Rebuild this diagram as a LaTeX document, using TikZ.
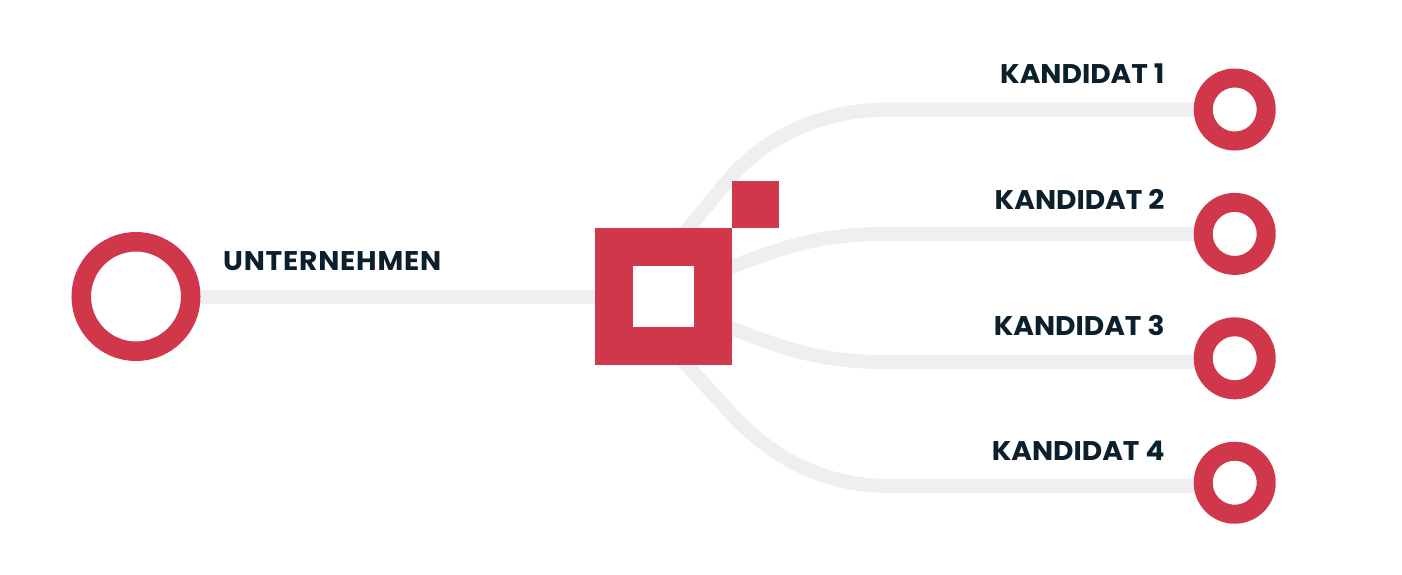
\documentclass[tikz,border=0pt]{standalone}
\usepackage{fontspec}
\setmainfont{Poppins}[FakeStretch=1.04]
\usepackage{xcolor}
\usetikzlibrary{positioning,backgrounds}
\definecolor{brandred}{HTML}{D1374B}
\definecolor{inkdark}{HTML}{0C1F2C}
\definecolor{railgray}{HTML}{EFEEF0}

\begin{document}
\begin{tikzpicture}[x=1pt, y=-1pt, node distance=42.4pt,
    ring/.style={circle, draw=brandred, fill=white, inner sep=0pt},
    bigring/.style={ring, line width=19.5pt, minimum size=109.5pt},
    smallring/.style={ring, line width=19pt, minimum size=63pt},
    hub/.style={rectangle, draw=brandred, fill=white, line width=37.6pt, inner sep=0pt, minimum size=99pt},
    chip/.style={rectangle, fill=brandred, inner sep=0pt, outer sep=0pt, minimum size=47pt},
    caption/.style={font=\bfseries\fontsize{27}{27}\selectfont, text=inkdark, inner sep=0pt, text depth=0pt},
    link/.style={draw=railgray, line width=14pt}]
    \useasboundingbox (0,0) rectangle (1402,574);

    \node [bigring] (firm) at (136,296.5) {};
    \node [hub, right=394.8pt of firm] (hub) {};
    \node [chip, above right=0pt and 0pt of hub.north east] (chip) {};

    \node [smallring] (cand1) at (1234.7,109.5) {};
    \node [smallring, below=of cand1] (cand2) {};
    \node [smallring, below=of cand2] (cand3) {};
    \node [smallring, below=of cand3] (cand4) {};

    \node [caption, above right=26pt and 22.5pt of firm.east] (firmtext) {\addfontfeature{LetterSpace=3}UNTERNEHMEN};
    \node [caption, above left=25.5pt and 29pt of cand1.west] (text1) {KANDIDAT 1};
    \node [caption, above left=24.5pt and 29pt of cand2.west] (text2) {KANDIDAT 2};
    \node [caption, above left=22.5pt and 29pt of cand3.west] (text3) {KANDIDAT 3};
    \node [caption, above left=22.5pt and 29pt of cand4.west] (text4) {KANDIDAT 4};

    % the two lower rails meet their rings a little under the centre
    \coordinate (end3) at (1215,362);
    \coordinate (end4) at (1215,486);

    \begin{scope}[on background layer]
    \path [link] (firm) -- (hub);
    \path [link] (hub.center) -- (672,248) -- (730,178) .. controls (755,150) and (805,109.5) .. (890,109.5) -- (cand1);
    \path [link] (hub.center) -- (715,273) .. controls (765,255.5) and (805,233.9) .. (885,233.9) -- (cand2);
    \path [link] (hub.center) -- (715,322) .. controls (765,340) and (805,362) .. (885,362) -- (end3);
    \path [link] (hub.center) -- (673,350) -- (727,409) .. controls (755,440) and (805,486) .. (890,486) -- (end4);
    \end{scope}
\end{tikzpicture}
\end{document}
